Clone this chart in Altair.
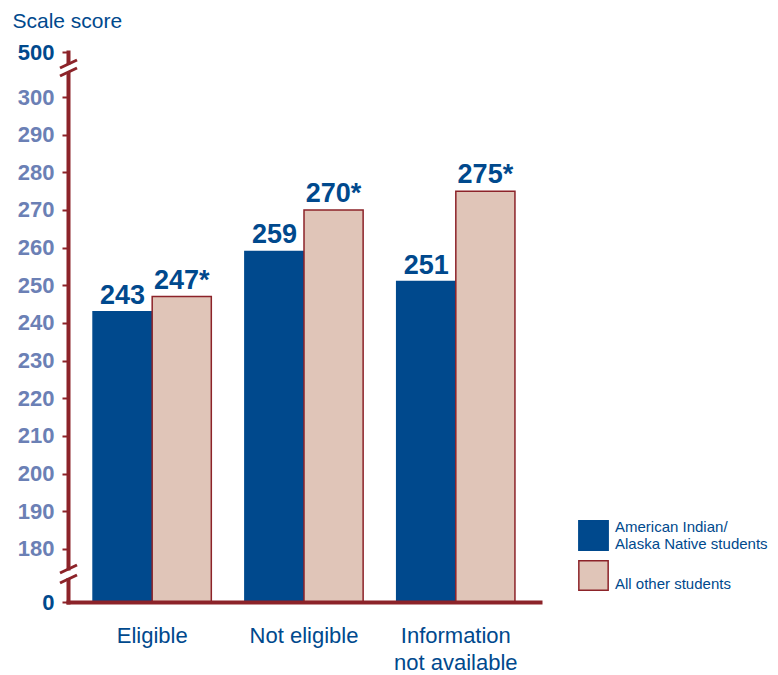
import altair as alt
import pandas as pd

# ---- data ----
categories = ["Eligible", "Not eligible", "Information not available"]
groups = ["American Indian/Alaska Native students", "All other students"]
ai_scores = [243, 259, 251]
other_scores = [247, 270, 275]
other_flags = ["*", "*", "*"]
y_tick_values = [180, 190, 200, 210, 220, 230, 240, 250, 260, 270, 280, 290, 300]

rows = []
for c, a, o, f in zip(categories, ai_scores, other_scores, other_flags):
    rows.append({"category": c, "group": groups[0], "score": a, "label": f"{a}"})
    rows.append({"category": c, "group": groups[1], "score": o, "label": f"{o}{f}"})
df = pd.DataFrame(rows)

# ---- styling ----
FONT = "Liberation Sans"
NAVY = "#00498d"
LIGHT = "#6b80b5"
RED = "#8c2329"
PINK = "#e0c5b8"

# broken axis: bottom of plot stands for 0, top for 500
LO = 165.9
HI = 311.95

x_enc = alt.X(
    "category:N",
    sort=categories,
    scale=alt.Scale(paddingInner=0.221, paddingOuter=0.165),
    axis=alt.Axis(
        title=None,
        labelAngle=0,
        ticks=False,
        labelExpr="datum.value == 'Information not available' ? ['Information', 'not available'] : datum.label",
        labelFont=FONT,
        labelFontSize=22,
        labelColor=NAVY,
        labelPadding=23.5,
        labelLineHeight=27,
        domainColor=RED,
        domainWidth=4,
        domainCap="square",
        zindex=1,
    ),
)

y_enc = alt.Y(
    "score:Q",
    scale=alt.Scale(domain=[LO, HI], zero=False, nice=False),
    axis=alt.Axis(
        values=[LO] + y_tick_values + [HI],
        tickCount=40,
        labelExpr="datum.value < 170 ? '0' : (datum.value > 305 ? '500' : format(datum.value, 'd'))",
        labelColor={"condition": {"test": "datum.value < 170 || datum.value > 305", "value": NAVY}, "value": LIGHT},
        labelFont=FONT,
        labelFontSize=22,
        labelFontWeight="bold",
        labelPadding=8,
        labelOverlap=False,
        grid=False,
        domainColor=RED,
        domainWidth=4,
        domainCap="square",
        tickColor=RED,
        tickSize=6,
        tickWidth=2,
        title="Scale score",
        titleAngle=0,
        titleAlign="left",
        titleBaseline="alphabetic",
        titleX=-56,
        titleY=-24.7,
        titleFont=FONT,
        titleFontSize=21,
        titleFontWeight="normal",
        titleColor=NAVY,
    ),
)

legend_kw = dict(
    title=None,
    orient="none",
    legendX=510,
    legendY=468,
    symbolType="square",
    symbolSize=860,
    symbolStrokeWidth=1.5,
    symbolOpacity=1,
    labelFont=FONT,
    labelFontSize=15,
    labelColor=NAVY,
    labelBaseline="line-bottom",
    labelOffset=6,
    labelLimit=300,
    rowPadding=3,
    padding=0,
    labelExpr="datum.label == 'American Indian/Alaska Native students' ? ['American Indian/', 'Alaska Native students'] : ['', datum.label]",
)

xoff = alt.XOffset("group:N", sort=groups, scale=alt.Scale(paddingInner=0, paddingOuter=0))

bars = alt.Chart(df).mark_bar(strokeWidth=1.5, opacity=1).encode(
    x=x_enc,
    xOffset=xoff,
    y=y_enc,
    y2=alt.datum(LO),
    color=alt.Color("group:N", sort=groups, scale=alt.Scale(domain=groups, range=[NAVY, PINK]),
                    legend=alt.Legend(**legend_kw)),
    stroke=alt.Stroke("group:N", sort=groups, scale=alt.Scale(domain=groups, range=[NAVY, RED]),
                      legend=alt.Legend(**legend_kw)),
)

texts = alt.Chart(df).mark_text(
    font=FONT, fontSize=27, fontWeight="bold", color=NAVY, baseline="alphabetic", dy=-8
).encode(
    x=alt.X("category:N", sort=categories),
    xOffset=xoff,
    y=alt.Y("score:Q"),
    text="label:N",
)

one = alt.Data(values=[{}])
# axis-break decorations (white gaps + slashes)
gap_top = alt.Chart(one).mark_rule(color="white", strokeWidth=7).encode(
    x=alt.value(0), y=alt.value(12.5), y2=alt.value(20))
gap_bot = alt.Chart(one).mark_rule(color="white", strokeWidth=7).encode(
    x=alt.value(0), y=alt.value(518.5), y2=alt.value(526))
s1 = alt.Chart(one).mark_rule(color=RED, strokeWidth=3).encode(
    x=alt.value(-8), x2=alt.value(9), y=alt.value(16), y2=alt.value(8))
s2 = alt.Chart(one).mark_rule(color=RED, strokeWidth=3).encode(
    x=alt.value(-8), x2=alt.value(9), y=alt.value(24), y2=alt.value(16))
s3 = alt.Chart(one).mark_rule(color=RED, strokeWidth=3).encode(
    x=alt.value(-8), x2=alt.value(9), y=alt.value(521), y2=alt.value(513))
s4 = alt.Chart(one).mark_rule(color=RED, strokeWidth=3).encode(
    x=alt.value(-8), x2=alt.value(9), y=alt.value(531), y2=alt.value(523))

chart = alt.layer(bars, texts, gap_top, gap_bot, s1, s2, s3, s4).properties(
    width=472,
    height=550,
    autosize=alt.AutoSizeParams(type="none"),
    padding={"left": 60, "top": 44, "right": 230, "bottom": 74},
).configure_view(stroke=None)

chart.save("out.html", embed_options={"renderer": "svg", "actions": False})
